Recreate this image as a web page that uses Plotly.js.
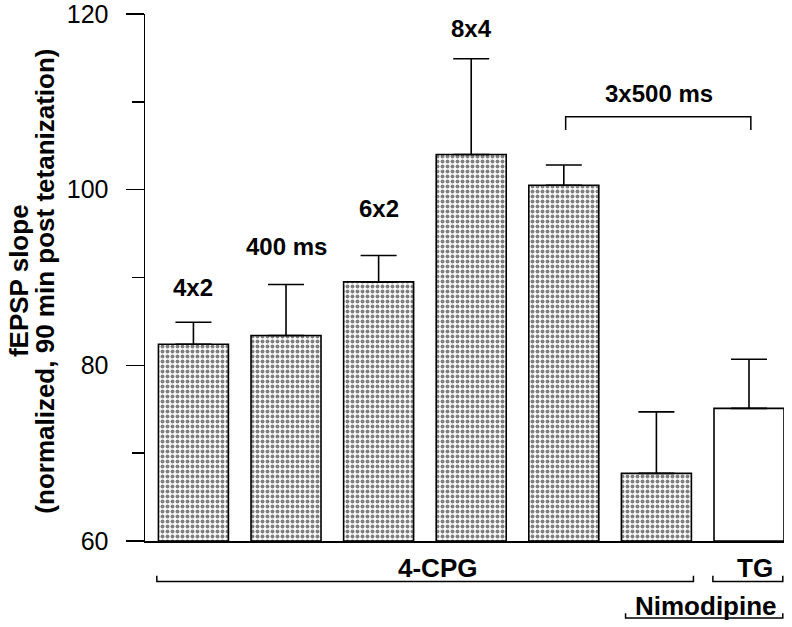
<!DOCTYPE html>
<html>
<head>
<meta charset="utf-8">
<script src="https://cdn.plot.ly/plotly-3.0.1.min.js"></script>
<style>html,body{margin:0;padding:0;background:#fff;}#chart{width:792px;height:627px;}</style>
</head>
<body>
<div id="chart"></div>
<script>
// ---- data ----
const categories = [0, 1, 2, 3, 4, 5, 6];
const barLabels = ["4x2", "400 ms", "6x2", "8x4", "", "", ""];
const means = [82.4, 83.4, 89.5, 104.0, 100.5, 67.7, 75.1];
const errUp = [2.5, 5.8, 3.0, 10.9, 2.3, 7.0, 5.6];
const patterned = [true, true, true, true, true, true, false];
const yTicks = [60, 80, 100, 120];
const yTitleLines = ["fEPSP slope", "(normalized, 90 min post tetanization)"];
// groups drawn as brackets: [label, firstIndex, lastIndex]
const topGroup = ["3x500 ms", 4, 6];
const bottomGroups = [["4-CPG", 0, 5], ["TG", 6, 6]];
const lowerGroup = ["Nimodipine", 5, 6];

const FONT = "Arial, 'Liberation Sans', Helvetica, sans-serif";
const BASE = 60;

const trace = {
  type: "bar",
  x: categories,
  y: means.map(v => v - BASE),
  base: BASE,
  width: 0.756,
  marker: {
    color: "white",
    line: {color: "black", width: 1.6},
    pattern: {
      shape: patterned.map(p => p ? "." : ""),
      size: 5,
      solidity: 0.5,
      fgcolor: "black",
      bgcolor: "white",
      fillmode: "overlay"
    }
  },
  error_y: {
    type: "data",
    symmetric: false,
    array: errUp,
    arrayminus: errUp.map(() => 0),
    color: "black",
    thickness: 1.6,
    width: 18
  },
  hoverinfo: "skip"
};

const annotations = [];
const shapes = [];
const labelY = [88.9, 93.5, 97.85, 118.3];
barLabels.forEach((t, i) => {
  if (!t) return;
  annotations.push({x: categories[i], y: labelY[i], xref: "x", yref: "y", text: "<b>" + t + "</b>",
    showarrow: false, font: {family: FONT, size: 24, color: "black"}, yanchor: "middle"});
});

// top bracket
const tg0 = categories[topGroup[1]], tg1 = categories[topGroup[2]];
shapes.push({type: "path", xref: "x", yref: "y",
  path: `M ${tg0 + 0.02} 106.8 L ${tg0 + 0.02} 108.3 L ${tg1 + 0.02} 108.3 L ${tg1 + 0.02} 106.8`,
  line: {color: "black", width: 1.5}});
annotations.push({x: 5.03, y: 110.9, xref: "x", yref: "y", text: "<b>" + topGroup[0] + "</b>",
  showarrow: false, font: {family: FONT, size: 24, color: "black"}, yanchor: "middle"});

// bottom brackets
const bY = -0.077, bLeg = -0.066;
const bEnds = [[-0.395, 5.40], [5.61, 6.365]];
const bLabelX = [2.64, 6.07];
bottomGroups.forEach((g, k) => {
  const [x0, x1] = bEnds[k];
  shapes.push({type: "path", xref: "x", yref: "paper",
    path: `M ${x0} ${bLeg} L ${x0} ${bY} L ${x1} ${bY} L ${x1} ${bLeg}`,
    line: {color: "black", width: 1.5}});
  annotations.push({x: bLabelX[k], y: -0.052, xref: "x", yref: "paper", text: "<b>" + g[0] + "</b>",
    showarrow: false, font: {family: FONT, size: 26, color: "black"}, yanchor: "middle"});
});
// Nimodipine bracket
shapes.push({type: "path", xref: "x", yref: "paper",
  path: `M 4.667 -0.137 L 4.667 -0.146 L 6.365 -0.146 L 6.365 -0.137`,
  line: {color: "black", width: 1.5}});
annotations.push({x: 5.54, y: -0.123, xref: "x", yref: "paper", text: "<b>" + lowerGroup[0] + "</b>",
  showarrow: false, font: {family: FONT, size: 26, color: "black"}, yanchor: "middle"});

// y-axis title, two tightly spaced lines
const titleX = [-0.197, -0.157];
yTitleLines.forEach((t, k) => {
  annotations.push({x: titleX[k], y: 0.4934, xref: "paper", yref: "paper", text: "<b>" + t + "</b>",
    textangle: -90, showarrow: false, xanchor: "center", yanchor: "middle",
    font: {family: FONT, size: 26, color: "black"}});
});

const layout = {
  width: 792, height: 627,
  margin: {l: 145, r: 7.8, t: 14, b: 86, pad: 0},
  paper_bgcolor: "white", plot_bgcolor: "white",
  showlegend: false,
  font: {family: FONT, color: "black"},
  xaxis: {
    range: [-0.523, 6.378], showline: true, linecolor: "black", linewidth: 2,
    ticks: "", showticklabels: false, showgrid: false, zeroline: false, fixedrange: true
  },
  yaxis: {
    range: [60, 120], tickvals: yTicks, ticktext: yTicks.map(String),
    showline: true, linecolor: "black", linewidth: 1.5,
    ticks: "outside", ticklen: 18, tickwidth: 1.5, tickcolor: "black",
    minor: {dtick: 10, tick0: 60, ticks: "outside", ticklen: 12, tickwidth: 1.5, tickcolor: "black"},
    showgrid: false, zeroline: false,
    ticklabelstandoff: 12,
    ticklabeloverflow: "allow",
    tickfont: {family: FONT, size: 25, color: "black"}
  },
  annotations: annotations,
  shapes: shapes
};

Plotly.newPlot("chart", [trace], layout, {displayModeBar: false, staticPlot: true});
</script>
</body>
</html>
